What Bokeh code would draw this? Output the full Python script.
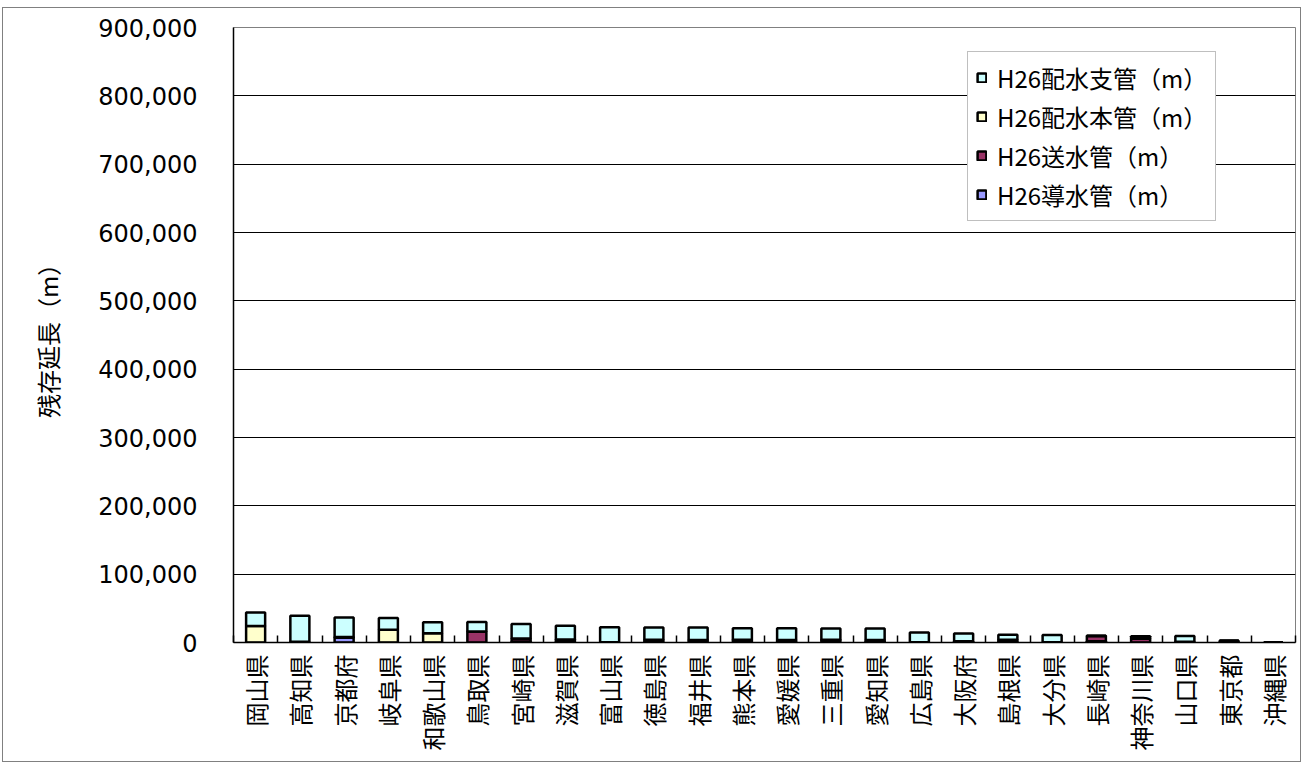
import math
from bokeh.plotting import figure
from bokeh.models import (ColumnDataSource, FixedTicker, Legend, LegendItem,
                          NumeralTickFormatter, Range1d)
from bokeh.embed import file_html
from bokeh.resources import INLINE

# ---- data ----
prefectures = ["岡山県", "高知県", "京都府", "岐阜県", "和歌山県", "鳥取県", "宮崎県", "滋賀県",
               "富山県", "徳島県", "福井県", "熊本県", "愛媛県", "三重県", "愛知県", "広島県",
               "大阪府", "島根県", "大分県", "長崎県", "神奈川県", "山口県", "東京都", "沖縄県"]
dosui_kan = [0, 0, 7000, 0, 0, 0, 1500, 1000, 0, 0, 0, 3500,
             0, 3500, 500, 0, 0, 0, 0, 2000, 0, 0, 0, 0]          # H26導水管
sosui_kan = [0, 0, 1000, 0, 0, 16000, 4500, 3500, 0, 500, 500, 500,
             1000, 0, 1000, 0, 1500, 1000, 0, 7500, 5500, 500, 2500, 0]  # H26送水管
haisui_honkan = [24000, 1000, 0, 18500, 13500, 0, 0, 0, 500, 3500, 3000, 0,
                 2500, 500, 2000, 500, 500, 3000, 500, 0, 0, 500, 0, 0]  # H26配水本管
haisui_shikan = [20000, 38000, 28500, 17500, 16000, 14000, 21000, 20000, 22000, 18000, 18500, 17000,
                 17500, 16500, 17000, 14000, 11000, 7500, 10500, 500, 3500, 8500, 0, 0]  # H26配水支管

series_names = ["H26導水管（m）", "H26送水管（m）", "H26配水本管（m）", "H26配水支管（m）"]
series_colors = ["#9999FF", "#993366", "#FFFFCC", "#CCFFFF"]
y_ticks = [0, 100000, 200000, 300000, 400000, 500000, 600000, 700000, 800000, 900000]
y_label = "残存延長（m）"

n = len(prefectures)
xpos = list(range(1, n + 1))
boundaries = [i + 0.5 for i in range(0, n + 1)]

source = ColumnDataSource(dict(x=xpos, d=dosui_kan, s=sosui_kan, h=haisui_honkan, k=haisui_shikan))

p = figure(width=1299, height=755,
           x_range=Range1d(0.5, n + 0.5), y_range=Range1d(0, 900000),
           output_backend="svg", toolbar_location=None,
           min_border_left=230, min_border_right=7, min_border_top=19, min_border_bottom=121)
p.styles = {"border": "1px solid #808080", "margin-top": "7px", "margin-left": "2px"}

renderers = p.vbar_stack(["d", "s", "h", "k"], x="x", width=0.43, source=source,
                         fill_color=series_colors, line_color="black", line_width=2.5)

# grid & outline
p.xgrid.visible = False
p.ygrid.grid_line_color = "black"
p.ygrid.grid_line_width = 1
p.outline_line_color = "#808080"
p.outline_line_width = 1

# y axis
p.yaxis.ticker = FixedTicker(ticks=y_ticks)
p.yaxis.formatter = NumeralTickFormatter(format="0,0")
p.yaxis.major_tick_in = 0
p.yaxis.major_tick_out = 0
p.yaxis.minor_tick_in = 0
p.yaxis.minor_tick_out = 0
p.yaxis.axis_line_color = "black"
p.yaxis.axis_line_width = 1.5
p.yaxis.major_label_standoff = 36
p.yaxis.major_label_text_font = "DejaVu Sans"
p.yaxis.major_label_text_font_size = "24px"
p.yaxis.major_label_text_color = "black"
p.yaxis.axis_label = y_label
p.yaxis.axis_label_text_font = "Noto Sans CJK JP"
p.yaxis.axis_label_text_font_size = "24px"
p.yaxis.axis_label_text_font_style = "normal"
p.yaxis.axis_label_text_color = "black"
p.yaxis.axis_label_standoff = 30

# x axis
p.xaxis.ticker = FixedTicker(ticks=xpos, minor_ticks=boundaries)
p.xaxis.major_label_overrides = {x: name for x, name in zip(xpos, prefectures)}
p.xaxis.major_tick_in = 0
p.xaxis.major_tick_out = 0
p.xaxis.minor_tick_in = 7
p.xaxis.minor_tick_out = 0
p.xaxis.minor_tick_line_color = "black"
p.xaxis.minor_tick_line_width = 1.5
p.xaxis.axis_line_color = "black"
p.xaxis.axis_line_width = 1.5
p.xaxis.major_label_orientation = math.pi / 2
p.xaxis.major_label_standoff = 12
p.xaxis.major_label_text_font = "Noto Sans CJK JP"
p.xaxis.major_label_text_font_size = "24px"
p.xaxis.major_label_text_color = "black"

# legend (top to bottom: 支管, 本管, 送水管, 導水管)
items = [LegendItem(label=series_names[i], renderers=[renderers[i]]) for i in [3, 2, 1, 0]]
legend = Legend(items=items, location=(734, 421),
                glyph_width=11, glyph_height=11, label_standoff=10,
                label_height=28, spacing=4, padding=8, margin=0,
                label_text_font="Noto Sans CJK JP", label_text_font_size="24px",
                label_text_color="black",
                border_line_color="#808080", border_line_width=1,
                background_fill_color="white", background_fill_alpha=1)
p.add_layout(legend)

open("out.html", "w").write(file_html(p, INLINE))
